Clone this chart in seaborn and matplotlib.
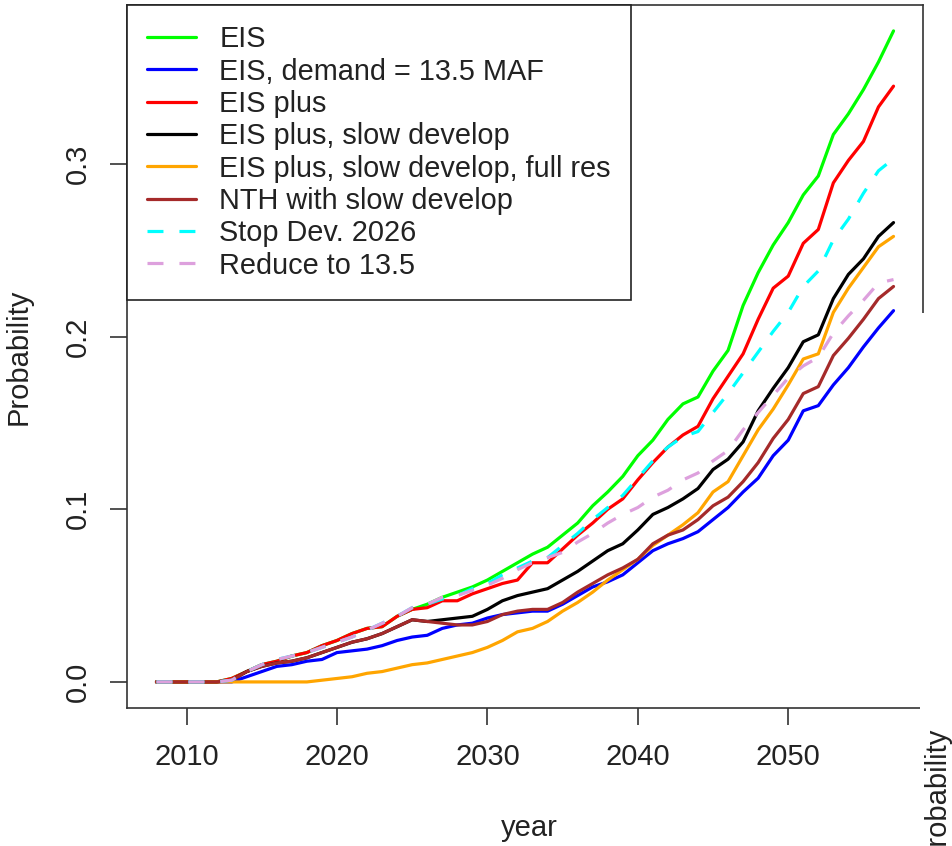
import pandas as pd
import seaborn as sns
import matplotlib.pyplot as plt
from matplotlib.patches import Rectangle

# ======================
# DATA
# ======================

years = list(range(2008, 2058))

eis = [0, 0, 0, 0, 0,
       0.002, 0.006, 0.010, 0.012, 0.015, 0.017, 0.021, 0.024, 0.028, 0.031,
       0.032, 0.038, 0.042, 0.045, 0.049, 0.052, 0.055, 0.059, 0.064, 0.069,
       0.074, 0.078, 0.085, 0.092, 0.102, 0.110, 0.119, 0.131, 0.140, 0.152,
       0.161, 0.165, 0.180, 0.192, 0.218, 0.237, 0.253, 0.266, 0.282, 0.293,
       0.317, 0.329, 0.343, 0.359, 0.377]

eis_demand = [0, 0, 0, 0, 0,
              0.000, 0.003, 0.006, 0.009, 0.010, 0.012, 0.013, 0.017, 0.018, 0.019,
              0.021, 0.024, 0.026, 0.027, 0.031, 0.033, 0.034, 0.037, 0.039, 0.040,
              0.041, 0.041, 0.045, 0.050, 0.055, 0.058, 0.062, 0.069, 0.076, 0.080,
              0.083, 0.087, 0.094, 0.101, 0.110, 0.118, 0.131, 0.140, 0.157, 0.160,
              0.172, 0.182, 0.194, 0.205, 0.215]

eis_plus = [0, 0, 0, 0, 0,
            0.002, 0.006, 0.010, 0.012, 0.015, 0.017, 0.021, 0.024, 0.028, 0.031,
            0.032, 0.038, 0.042, 0.043, 0.047, 0.047, 0.051, 0.054, 0.057, 0.059,
            0.069, 0.069, 0.077, 0.085, 0.092, 0.100, 0.106, 0.117, 0.127, 0.136,
            0.143, 0.148, 0.164, 0.177, 0.190, 0.210, 0.228, 0.235, 0.254, 0.262,
            0.289, 0.302, 0.313, 0.333, 0.345]

eis_plus_slow = [0, 0, 0, 0, 0,
                 0.001, 0.006, 0.009, 0.011, 0.012, 0.014, 0.017, 0.020, 0.023, 0.025,
                 0.028, 0.032, 0.036, 0.035, 0.036, 0.037, 0.038, 0.042, 0.047, 0.050,
                 0.052, 0.054, 0.059, 0.064, 0.070, 0.076, 0.080, 0.088, 0.097, 0.101,
                 0.106, 0.112, 0.123, 0.129, 0.139, 0.157, 0.170, 0.182, 0.197, 0.201,
                 0.222, 0.236, 0.245, 0.258, 0.266]

eis_plus_slow_full = [0, 0, 0, 0, 0,
                      0, 0, 0, 0, 0, 0, 0.001, 0.002, 0.003, 0.005,
                      0.006, 0.008, 0.010, 0.011, 0.013, 0.015, 0.017, 0.020, 0.024, 0.029,
                      0.031, 0.035, 0.041, 0.046, 0.052, 0.059, 0.065, 0.071, 0.079, 0.085,
                      0.091, 0.098, 0.110, 0.116, 0.131, 0.146, 0.158, 0.172, 0.187, 0.190,
                      0.214, 0.228, 0.240, 0.252, 0.258]

nth_slow = [0, 0, 0, 0, 0,
            0.001, 0.006, 0.009, 0.011, 0.012, 0.014, 0.017, 0.020, 0.023, 0.025,
            0.028, 0.032, 0.036, 0.035, 0.034, 0.033, 0.033, 0.035, 0.039, 0.041,
            0.042, 0.042, 0.046, 0.052, 0.057, 0.062, 0.066, 0.071, 0.080, 0.085,
            0.088, 0.094, 0.102, 0.107, 0.116, 0.127, 0.141, 0.152, 0.167, 0.171,
            0.189, 0.199, 0.210, 0.222, 0.229]

stop_dev = [0, 0, 0, 0, 0,
            0.001, 0.006, 0.010, 0.013, 0.015, 0.017, 0.020, 0.023, 0.026, 0.030,
            0.034, 0.038, 0.043, 0.045, 0.048, 0.050, 0.054, 0.057, 0.062, 0.066,
            0.070, 0.072, 0.079, 0.086, 0.094, 0.101, 0.108, 0.118, 0.128, 0.136,
            0.142, 0.145, 0.156, 0.167, 0.179, 0.191, 0.203, 0.214, 0.229, 0.238,
            0.256, 0.268, 0.283, 0.296, 0.303]

reduce_135 = [0, 0, 0, 0, 0,
              0.001, 0.006, 0.010, 0.013, 0.015, 0.017, 0.020, 0.023, 0.026, 0.030,
              0.034, 0.038, 0.043, 0.045, 0.049, 0.050, 0.053, 0.056, 0.060, 0.065,
              0.069, 0.072, 0.075, 0.081, 0.086, 0.092, 0.097, 0.101, 0.107, 0.111,
              0.117, 0.121, 0.128, 0.134, 0.146, 0.156, 0.166, 0.176, 0.183, 0.188,
              0.202, 0.212, 0.221, 0.231, 0.233]

labels = ["EIS", "EIS, demand = 13.5 MAF", "EIS plus", "EIS plus, slow develop",
          "EIS plus, slow develop, full res", "NTH with slow develop",
          "Stop Dev. 2026", "Reduce to 13.5"]
series = [eis, eis_demand, eis_plus, eis_plus_slow, eis_plus_slow_full,
          nth_slow, stop_dev, reduce_135]
colors = ["#00FF00", "#0000FF", "#FF0000", "#000000", "#FFA500",
          "#A52A2A", "#00FFFF", "#DDA0DD"]
styles = ["-", "-", "-", "-", "-", "-", (0, (5, 5)), (0, (5, 5))]

xticks = [2010, 2020, 2030, 2040, 2050]
yticks = [0.0, 0.1, 0.2, 0.3]

# ======================
# PLOT
# ======================

sns.set_style("white")
plt.rcParams['font.family'] = ['Liberation Sans', 'DejaVu Sans']

fig = plt.figure(figsize=(9.53, 8.46), dpi=100)
ax = fig.add_axes([127 / 953, 138 / 846, 796 / 953, 703 / 846])

for lab, vals, col, ls in zip(labels, series, colors, styles):
    df = pd.DataFrame({"year": years, "Probability": vals})
    sns.lineplot(data=df, x="year", y="Probability", ax=ax, color=col,
                 linewidth=2.3, linestyle=ls, label=lab)

ax.set_xlim(2006.04, 2058.96)
ax.set_ylim(-0.0151, 0.392)
ax.set_xticks(xticks)
ax.set_yticks(yticks)
ax.set_yticklabels([f"{t:.1f}" for t in yticks])

for s in ax.spines.values():
    s.set_color("#333333")
    s.set_linewidth(1.2)

ax.tick_params(axis="both", direction="out", length=12, width=1.2,
               color="#333333", labelsize=21, labelcolor="#222222", pad=13,
               bottom=True, left=True)
ax.tick_params(axis="y", labelrotation=90)
for t in ax.get_yticklabels():
    t.set_va("center")

ax.set_xlabel("year", fontsize=21, color="#222222")
ax.set_ylabel("Probability", fontsize=21, color="#222222")
ax.xaxis.set_label_coords(0.505, -0.151)
ax.yaxis.set_label_coords(-0.118, 0.5)

leg = ax.legend(loc="upper left", borderaxespad=0, fontsize=20.8,
                frameon=True, fancybox=False, framealpha=1,
                edgecolor="#222222", handlelength=1.7, handletextpad=0.8,
                labelspacing=0.15, borderpad=0.7)
leg.get_frame().set_linewidth(1.2)
for t in leg.get_texts():
    t.set_color("#222222")

# piece of another panel pasted over the lower right corner
fig.add_artist(Rectangle((920 / 953, 0), 33 / 953, 533 / 846,
                         transform=fig.transFigure, facecolor="white",
                         edgecolor="none", zorder=10))
fig.text(937 / 953, 0.06, "Probability", rotation=90, ha="center",
         va="center", fontsize=21, color="#222222", zorder=11)

plt.savefig("out.png", dpi=100)
